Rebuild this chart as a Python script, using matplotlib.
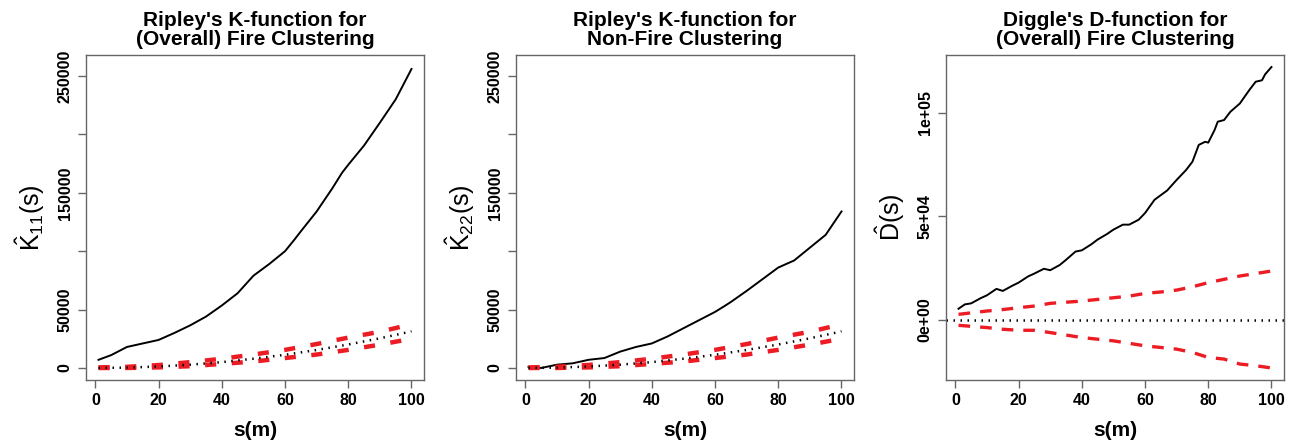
import numpy as np
import matplotlib.pyplot as plt

plt.rcParams['font.family'] = ['Liberation Sans', 'DejaVu Sans']
plt.rcParams['mathtext.fontset'] = 'custom'
plt.rcParams['mathtext.rm'] = 'Liberation Sans'
plt.rcParams['mathtext.it'] = 'Liberation Sans'

# s values (m)
s_k = [1, 5, 10, 15, 20, 25, 30, 35, 40, 45, 50, 55, 60, 63, 65, 70, 75, 78, 80, 85, 90, 95, 100]
k11_obs = [7000, 11000, 18000, 21000, 24000, 30000, 36500, 44000, 53500, 64000, 79000, 89000, 100000,
           110000, 117000, 134000, 154000, 167000, 174000, 190500, 210000, 230000, 256000]
k22_obs = [1000, 0, 2800, 4000, 7000, 8500, 14000, 18000, 21000, 27000, 34000, 41000, 48000,
           53000, 56500, 66000, 76000, 82000, 86000, 92000, 103000, 114000, 134000]

s_env = [1, 10, 20, 30, 40, 50, 60, 70, 80, 90, 97, 100]
k_theo = [0, 300, 1250, 2800, 5000, 7900, 11300, 15400, 20100, 25400, 29500, 31400]
k11_hi = [500, 1000, 2500, 5000, 7900, 11500, 15500, 20500, 26000, 31000, 35500, 37000]
k11_lo = [0, 0, 500, 1500, 3500, 5500, 8500, 11500, 15500, 20000, 23500, 25000]
k22_hi = [500, 1000, 2600, 5000, 7900, 11500, 15500, 20500, 26000, 31000, 35500, 37000]
k22_lo = [0, 0, 500, 1500, 3500, 5500, 8500, 11500, 15500, 20000, 23500, 25000]

s_d = [1, 3, 5, 8, 10, 13, 15, 18, 20, 23, 25, 28, 30, 33, 35, 38, 40, 43, 45, 48, 50, 53, 55, 58,
       60, 63, 67, 70, 73, 75, 77, 79, 80, 82, 83, 85, 87, 90, 93, 95, 97, 98, 100]
d_obs = [5400, 7500, 8000, 10500, 11900, 15000, 14000, 16500, 18000, 21000, 22400, 24700, 24000,
         26500, 29000, 33000, 33600, 36500, 38800, 41500, 43600, 46000, 46000, 48400, 51600, 58000,
         62500, 67600, 72400, 76400, 84500, 86000, 85600, 91700, 95700, 96500, 100500, 104500,
         111000, 115000, 115700, 118600, 122100]
s_denv = [1, 10, 15, 20, 25, 30, 40, 50, 55, 60, 65, 70, 75, 80, 85, 90, 95, 100]
d_hi = [2700, 4300, 5000, 5900, 6700, 8000, 9100, 10700, 11500, 12800, 13500, 14400, 16000, 18000,
        19600, 21200, 22400, 23600]
d_lo = [-2600, -3700, -4500, -5000, -5000, -6100, -8500, -10100, -11300, -12500, -13300, -14100,
        -15700, -18100, -18900, -21300, -22100, -23200]

RED = '#ec1c24'
GRID = '#666666'

fig = plt.figure(figsize=(12.89, 4.45), dpi=100)
W, H = 1289, 445
lefts = [86, 516, 946]
axs = [fig.add_axes([l / W, (445 - 380) / H, 338 / W, 325 / H]) for l in lefts]


def style(ax):
    for sp in ax.spines.values():
        sp.set_color(GRID)
        sp.set_linewidth(1.0)
    ax.tick_params(direction='out', length=6, width=1, color=GRID, labelsize=11.5)
    for lab in ax.get_xticklabels() + ax.get_yticklabels():
        lab.set_fontweight('bold')
    for lab in ax.get_yticklabels():
        lab.set_rotation(90)
        lab.set_va('center')
    ax.set_xlabel('s(m)', fontsize=15, fontweight='bold', labelpad=9)


titles = ["Ripley's K-function for\n(Overall) Fire Clustering",
          "Ripley's K-function for\nNon-Fire Clustering",
          "Diggle's D-function for\n(Overall) Fire Clustering"]

for ax, obs, hi, lo, yl in [(axs[0], k11_obs, k11_hi, k11_lo, r'$\hat{K}_{11}(s)$'),
                            (axs[1], k22_obs, k22_hi, k22_lo, r'$\hat{K}_{22}(s)$')]:
    ax.plot(s_k, obs, color='black', lw=1.4)
    ax.plot(s_env, hi, color=RED, lw=3.2, dashes=(2.5, 3.5))
    ax.plot(s_env, lo, color=RED, lw=3.2, dashes=(2.5, 3.5))
    ax.plot(s_env, k_theo, color='black', lw=1.8, dashes=(0.6, 2.2))
    ax.set_xlim(-2.96, 103.96)
    ax.set_ylim(-10300, 268000)
    ax.set_xticks([0, 20, 40, 60, 80, 100])
    ax.set_yticks([0, 50000, 100000, 150000, 200000, 250000])
    ax.set_yticklabels(['0', '50000', '', '150000', '', '250000'])
    ax.set_ylabel(yl, fontsize=18, labelpad=8)
    style(ax)

ax = axs[2]
ax.plot(s_d, d_obs, color='black', lw=1.4)
ax.plot(s_denv, d_hi, color=RED, lw=2.4, dashes=(3.5, 3))
ax.plot(s_denv, d_lo, color=RED, lw=2.4, dashes=(3.5, 3))
ax.axhline(0, color='black', lw=1.8, dashes=(0.6, 2.2))
ax.set_xlim(-2.96, 103.96)
ax.set_ylim(-29000, 127900)
ax.set_xticks([0, 20, 40, 60, 80, 100])
ax.set_yticks([0, 50000, 100000])
ax.set_yticklabels(['0e+00', '5e+04', '1e+05'])
ax.set_ylabel(r'$\hat{D}(s)$', fontsize=18, labelpad=8)
style(ax)

for ax, t in zip(axs, titles):
    ax.set_title(t, fontsize=15, fontweight='bold', pad=7, linespacing=1.0)

fig.savefig('out.png', dpi=100)
